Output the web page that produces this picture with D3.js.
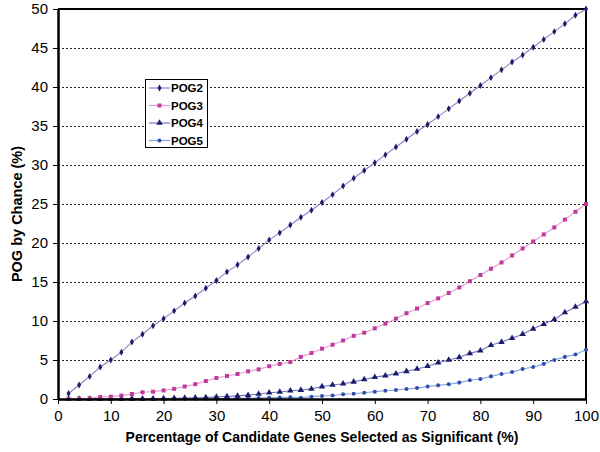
<!DOCTYPE html>
<html><head><meta charset="utf-8">
<script src="https://cdn.jsdelivr.net/npm/d3@7"></script>
<style>body{margin:0;background:#fff}svg{display:block}text{font-family:"Liberation Sans",Arial,sans-serif}</style>
</head><body>
<script>
const xValues = [2,4,6,8,10,12,14,16,18,20,22,24,26,28,30,32,34,36,38,40,42,44,46,48,50,52,54,56,58,60,62,64,66,68,70,72,74,76,78,80,82,84,86,88,90,92,94,96,98,100];
const pog2 = [0.7,1.8,2.9,4.1,5.0,6.0,7.3,8.3,9.4,10.3,11.3,12.3,13.2,14.2,15.2,16.3,17.2,18.2,19.3,20.4,21.3,22.3,23.3,24.2,25.2,26.2,27.3,28.3,29.3,30.3,31.3,32.3,33.3,34.3,35.2,36.2,37.2,38.2,39.2,40.2,41.2,42.2,43.2,44.1,45.1,46.1,47.1,48.1,49.2,50.0];
const pog3 = [0.02,0.05,0.1,0.26,0.3,0.43,0.64,0.86,0.94,1.1,1.3,1.6,1.9,2.3,2.7,2.95,3.2,3.55,3.8,4.2,4.5,4.75,5.4,5.9,6.45,6.96,7.5,8.1,8.5,9.06,9.66,10.3,11.0,11.6,12.3,12.9,13.6,14.3,15.1,15.9,16.7,17.5,18.4,19.3,20.2,21.1,22.0,23.0,24.0,25.0];
const pog4 = [0,0,0,0.01,0.01,0.02,0.03,0.04,0.05,0.07,0.1,0.12,0.15,0.2,0.27,0.33,0.4,0.5,0.65,0.8,0.9,1.06,1.15,1.3,1.6,1.8,1.96,2.2,2.5,2.8,3.0,3.25,3.55,3.85,4.2,4.65,5.0,5.35,5.85,6.2,6.9,7.3,7.8,8.3,9.0,9.6,10.2,11.1,11.8,12.5];
const pog5 = [0,0,0,0,0,0,0,0.01,0.01,0.01,0.02,0.02,0.03,0.04,0.05,0.06,0.08,0.1,0.12,0.15,0.18,0.23,0.17,0.3,0.38,0.45,0.6,0.68,0.8,0.94,1.06,1.15,1.28,1.4,1.6,1.75,1.9,2.1,2.4,2.56,2.9,3.2,3.45,3.85,4.1,4.5,5.0,5.4,5.7,6.3];
const seriesNames = ["POG2","POG3","POG4","POG5"];
const xTicks = [0,10,20,30,40,50,60,70,80,90,100];
const yTicks = [0,5,10,15,20,25,30,35,40,45,50];

const W = 600, H = 452;
const m = {l:58, r:14, t:9, b:53};
const svg = d3.select("body").append("svg").attr("width",W).attr("height",H);
const x = d3.scaleLinear().domain([0,100]).range([m.l, W-m.r]);
const y = d3.scaleLinear().domain([0,50]).range([H-m.b, m.t]);

svg.append("g").selectAll("line").data(yTicks.filter(d=>d>0&&d<50)).join("line")
  .attr("x1",x(0)).attr("x2",x(100)).attr("y1",d=>y(d)).attr("y2",d=>y(d))
  .attr("stroke","#222").attr("stroke-width",1).attr("stroke-dasharray","1.5,2.5")
  .attr("shape-rendering","crispEdges");

svg.append("path").attr("d",`M${x(0)},${y(50)}H${x(100)}V${y(0)}`)
  .attr("fill","none").attr("stroke","#000").attr("stroke-width",2);

const series = [
  {name:"POG2", vals:pog2, color:"#1c1c6e", line:"#8585c0", sym:d3.symbolDiamond, size:14},
  {name:"POG3", vals:pog3, color:"#c0399c", line:"#e699d0", sym:d3.symbolSquare, size:16},
  {name:"POG4", vals:pog4, color:"#1c1c6e", line:"#7575b8", sym:d3.symbolTriangle, size:18},
  {name:"POG5", vals:pog5, color:"#3050b0", line:"#8aa0dc", sym:d3.symbolCircle, size:13}
];
const lineGen = d3.line().x(d=>x(d[0])).y(d=>y(d[1]));
[...series].reverse().forEach(s=>{
  const pts = xValues.map((xv,i)=>[xv, s.vals[i]]);
  svg.append("path").datum(pts).attr("d",lineGen).attr("fill","none")
    .attr("stroke",s.line).attr("stroke-width",1.1);
  svg.append("g").selectAll("path").data(pts).join("path")
    .attr("transform",d=>`translate(${x(d[0])},${y(d[1])})`)
    .attr("d",d3.symbol().type(s.sym).size(s.size)).attr("fill",s.color);
});

const yAxis = d3.axisLeft(y).tickValues(yTicks).tickSize(5).tickPadding(5).tickSizeOuter(0);
const gy = svg.append("g").attr("transform",`translate(${x(0)},0)`).call(yAxis);
const xAxis = d3.axisBottom(x).tickValues(xTicks).tickSize(5).tickPadding(6).tickSizeOuter(0);
const gx = svg.append("g").attr("transform",`translate(0,${y(0)})`).call(xAxis);
[gx,gy].forEach(g=>{
  g.select(".domain").attr("stroke","#000").attr("stroke-width",2.5);
  g.selectAll(".tick line").attr("stroke","#000").attr("stroke-width",1);
  g.selectAll(".tick text").attr("font-size",15).attr("fill","#000")
    .attr("font-family","'Liberation Sans',Arial,sans-serif");
});

svg.append("text").attr("x",322).attr("y",442).attr("text-anchor","middle")
  .attr("font-size",14).attr("font-weight","bold")
  .text("Percentage of Candidate Genes Selected as Significant (%)");
svg.append("text").attr("transform","translate(22,214) rotate(-90)").attr("text-anchor","middle")
  .attr("font-size",14.5).attr("font-weight","bold").text("POG by Chance (%)");

const lg = svg.append("g");
lg.append("rect").attr("x",145.5).attr("y",79.5).attr("width",62).attr("height",68)
  .attr("fill","#fff").attr("stroke","#000").attr("stroke-width",1);
series.forEach((s,i)=>{
  const cy = 88 + i*17.5;
  lg.append("line").attr("x1",149).attr("x2",170).attr("y1",cy).attr("y2",cy)
    .attr("stroke",s.line).attr("stroke-width",1.2);
  lg.append("path").attr("transform",`translate(159.5,${cy})`)
    .attr("d",d3.symbol().type(s.sym).size(s.size)).attr("fill",s.color);
  lg.append("text").attr("x",171).attr("y",cy+4).attr("font-size",11.5)
    .attr("font-weight","bold").text(s.name);
});
</script>
</body></html>
